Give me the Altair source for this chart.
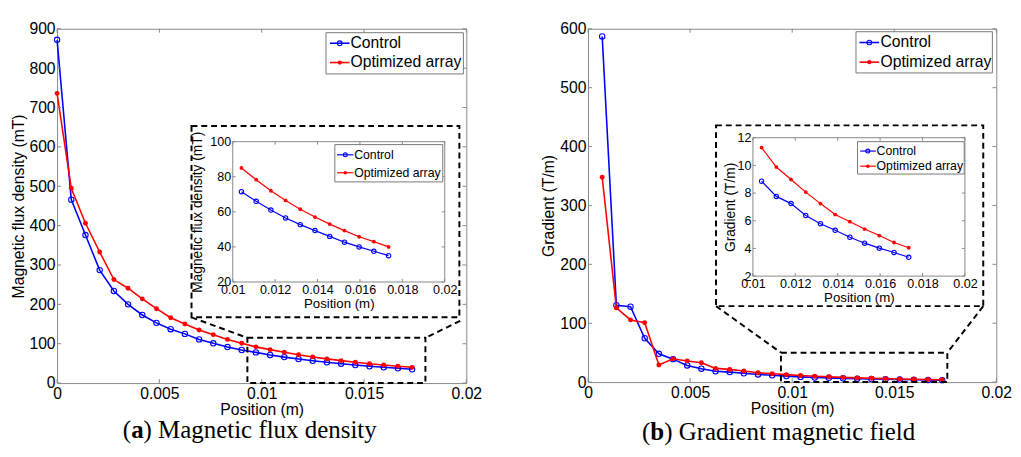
import altair as alt
import pandas as pd

# ---------------- data ----------------
position_a = [0.0, 0.000694, 0.001388, 0.002082, 0.002776, 0.00347, 0.004164, 0.004858,
              0.005552, 0.006246, 0.00694, 0.007634, 0.008328, 0.009022, 0.009716, 0.01041,
              0.011104, 0.011798, 0.012492, 0.013186, 0.01388, 0.014574, 0.015268, 0.015962,
              0.016656, 0.01735]
control_a = [872, 466, 376, 287, 234, 200, 173, 153, 137, 125, 111, 101, 91.5, 84, 78,
             71.5, 66, 61, 56.5, 52.7, 49.3, 46, 42.7, 40, 37.5, 35]
optimized_a = [736, 495, 406, 333, 263, 241, 214, 189, 166, 150, 135, 123, 111, 101, 92,
               85, 78.3, 72, 66.5, 61.5, 57, 53, 49.3, 45.8, 43, 40]

position_b = position_a[1:]
control_b = [587, 130.6, 128, 74.5, 48, 39, 28.3, 22.8, 18.3, 17, 15, 13, 11.5, 10.2,
             8.86, 7.76, 7.24, 6.38, 5.79, 5.31, 4.81, 4.38, 4.02, 3.71, 3.36]
optimized_b = [348, 126, 105.6, 101, 29, 39.5, 36, 33, 23.3, 21.6, 18.8, 16, 14.3, 12.7,
               11.29, 9.88, 8.98, 8.07, 7.24, 6.45, 5.93, 5.40, 4.93, 4.43, 4.05]

series_names = ["Control", "Optimized array"]

x_ticks_main = [0, 0.005, 0.01, 0.015, 0.02]
x_ticks_inset = [0.01, 0.012, 0.014, 0.016, 0.018, 0.02]
y_ticks_a = [0, 100, 200, 300, 400, 500, 600, 700, 800, 900]
y_ticks_a_inset = [20, 40, 60, 80, 100]
y_ticks_b = [0, 100, 200, 300, 400, 500, 600]
y_ticks_b_inset = [2, 4, 6, 8, 10, 12]

# zoom regions (data coordinates of the main axes)
zoom_a = {"x": [0.0093, 0.018], "y": [0, 115]}
zoom_b = {"x": [0.00945, 0.0176], "y": [0, 50]}
frame_a = {"x": [0.00657, 0.01966], "y": [167, 653]}
frame_b = {"x": [0.00627, 0.01936], "y": [129, 436]}

# ---------------- style ----------------
SANS = "Liberation Sans"
SERIF = "Liberation Serif"
BLUE = "#0000ff"
RED = "#ff0000"
GRAY = "#888888"
STYLES = [("Control", BLUE, False), ("Optimized array", RED, True)]


def long_df(pos, c, o):
    return pd.DataFrame({
        "x": list(pos) + list(pos),
        "v": list(c) + list(o),
        "s": [series_names[0]] * len(pos) + [series_names[1]] * len(pos),
    })


ONE = pd.DataFrame({"k": [0]})


def curves(df, xs, ys, xaxis, yaxis, lw, sizes):
    layers = []
    first = True
    for (name, col, filled), size in zip(STYLES, sizes):
        b = alt.Chart(df).transform_filter(alt.datum.s == name)
        plain = dict(x=alt.X("x:Q", scale=xs, axis=None), y=alt.Y("v:Q", scale=ys, axis=None))
        if first:
            enc = dict(x=alt.X("x:Q", scale=xs, axis=xaxis), y=alt.Y("v:Q", scale=ys, axis=yaxis))
            first = False
        else:
            enc = plain
        layers.append(b.mark_line(color=col, strokeWidth=lw).encode(**enc))
        layers.append(b.mark_point(shape="circle", filled=filled, color=col, size=size,
                                   strokeWidth=1.1, opacity=1).encode(**plain))
    return layers


def ticks(xvals, yvals, xdom, ydom, xs, ys, L):
    tx = alt.Chart(pd.DataFrame({"t": xvals}))
    ty = alt.Chart(pd.DataFrame({"t": yvals}))
    out = []
    for yv, off in [(ydom[1], L), (ydom[0], -L)]:
        out.append(tx.mark_rule(color=GRAY, strokeWidth=1, y2Offset=off).encode(
            x=alt.X("t:Q", scale=xs, axis=None),
            y=alt.YDatum(yv, scale=ys, axis=None), y2=alt.Y2Datum(yv)))
    for xv, off in [(xdom[0], L), (xdom[1], -L)]:
        out.append(ty.mark_rule(color=GRAY, strokeWidth=1, x2Offset=off).encode(
            y=alt.Y("t:Q", scale=ys, axis=None),
            x=alt.XDatum(xv, scale=xs, axis=None), x2=alt.X2Datum(xv)))
    return out


def legend(box, rows, line, mx, tx, fs, sizes, lw):
    one = alt.Chart(ONE)
    out = [one.mark_rect(fill="white", stroke="#777777", strokeWidth=1).encode(
        x=alt.value(box[0]), x2=alt.value(box[1]), y=alt.value(box[2]), y2=alt.value(box[3]))]
    for (name, col, filled), ry, size in zip(STYLES, rows, sizes):
        out.append(one.mark_rule(color=col, strokeWidth=lw).encode(
            x=alt.value(line[0]), x2=alt.value(line[1]), y=alt.value(ry)))
        out.append(one.mark_point(shape="circle", filled=filled, color=col, size=size,
                                  strokeWidth=1.1, opacity=1).encode(x=alt.value(mx), y=alt.value(ry)))
        out.append(one.mark_text(align="left", baseline="middle", font=SANS, fontSize=fs,
                                 color="black").encode(x=alt.value(tx), y=alt.value(ry), text=alt.value(name)))
    return out


def zoom_marks(zoom, frame, conn, xs, ys):
    one = alt.Chart(ONE)
    dash = dict(stroke="black", strokeWidth=2, strokeDash=[6, 4])
    out = []
    for r in (zoom, frame):
        out.append(one.mark_rect(fillOpacity=0, **dash).encode(
            x=alt.XDatum(r["x"][0], scale=xs, axis=None), x2=alt.X2Datum(r["x"][1]),
            y=alt.YDatum(r["y"][0], scale=ys, axis=None), y2=alt.Y2Datum(r["y"][1])))
    for (x1, y1, x2, y2) in conn:
        out.append(one.mark_rule(strokeDash=[6, 4], strokeWidth=2, color="black").encode(
            x=alt.XDatum(x1, scale=xs, axis=None), x2=alt.X2Datum(x2),
            y=alt.YDatum(y1, scale=ys, axis=None), y2=alt.Y2Datum(y2)))
    return out


def caption(letter, rest, x0, y, fs, bold_w):
    one = alt.Chart(ONE)
    parts = [("(", "normal", x0), (letter, "bold", x0 + 0.333 * fs),
             (rest, "normal", x0 + 0.333 * fs + bold_w * fs)]
    return [one.mark_text(align="left", baseline="alphabetic", font=SERIF, fontSize=fs,
                          fontWeight=w, color="black").encode(
        x=alt.value(px), y=alt.value(y), text=alt.value(t)) for t, w, px in parts]


def panel(df, W, H, ydom, yticks, ytitle, zoom, frame, conn,
          ins_xr, ins_yr, ins_ydom, ins_yticks, ins_ytitle_pad,
          leg_main, leg_inset, cap):
    xs = alt.Scale(domain=[0, 0.02], nice=False, zero=False)
    ys = alt.Scale(domain=ydom, nice=False, zero=False)
    xaxis = alt.Axis(orient="bottom", title="Position (m)", values=x_ticks_main, format="~g",
                     labelFontSize=16, titleFontSize=16, labelPadding=3, titlePadding=0)
    yaxis = alt.Axis(orient="left", title=ytitle, values=yticks, format="d",
                     labelFontSize=16, titleFontSize=16, labelPadding=2, titlePadding=3)

    xsi = alt.Scale(domain=[0.01, 0.02], range=ins_xr, nice=False, zero=False)
    ysi = alt.Scale(domain=ins_ydom, range=ins_yr, nice=False, zero=False)
    ixaxis = alt.Axis(orient="bottom", offset=-(H - ins_yr[0]), title="Position (m)",
                      values=x_ticks_inset, format="~g", labelFontSize=12.8, titleFontSize=13.5,
                      labelPadding=2, titlePadding=0)
    iyaxis = alt.Axis(orient="left", offset=-ins_xr[0], title=ytitle, values=ins_yticks,
                      format="d", labelFontSize=12.8, titleFontSize=14, labelPadding=2,
                      titlePadding=ins_ytitle_pad)
    dfi = df[df["x"] >= 0.01]
    bg = alt.Chart(ONE).mark_rect(fill="white", stroke=GRAY, strokeWidth=1).encode(
        x=alt.XDatum(0.01, scale=xsi, axis=None), x2=alt.X2Datum(0.02),
        y=alt.YDatum(ins_ydom[0], scale=ysi, axis=None), y2=alt.Y2Datum(ins_ydom[1]))

    layers = [
        *curves(df, xs, ys, xaxis, yaxis, 1.6, [30, 25]),
        *ticks(x_ticks_main, yticks, [0, 0.02], ydom, xs, ys, 4),
        *zoom_marks(zoom, frame, conn, xs, ys),
        *legend(**leg_main, fs=16, sizes=[22, 18], lw=1.6),
        *caption(**cap),
        bg,
        *curves(dfi, xsi, ysi, ixaxis, iyaxis, 1.2, [20, 15]),
        *ticks(x_ticks_inset, ins_yticks, [0.01, 0.02], ins_ydom, xsi, ysi, 3),
        *legend(**leg_inset, fs=12.5, sizes=[16, 13], lw=1.2),
    ]
    return alt.layer(*layers).resolve_scale(x="independent", y="independent").properties(
        width=W, height=H)


df_a = long_df(position_a, control_a, optimized_a)
df_b = long_df(position_b, control_b, optimized_b)

panel_a = panel(
    df_a, 417, 361, [0, 900], y_ticks_a, "Magnetic flux density (mT)",
    zoom_a, frame_a,
    [(frame_a["x"][0], frame_a["y"][0], zoom_a["x"][0], zoom_a["y"][1]),
     (0.0197, 158, zoom_a["x"][1], zoom_a["y"][1])],
    [179, 395], [258, 115], [20, 100], y_ticks_a_inset, 5,
    dict(box=[274, 414, 4, 46], rows=[14.7, 34.4], line=[278, 298], mx=288, tx=299),
    dict(box=[283, 393, 118, 156], rows=[128.4, 146.7], line=[285.3, 302], mx=293.7, tx=302.7),
    dict(letter="a", rest=") Magnetic flux density", x0=67, y=417, fs=25.4, bold_w=0.5),
)

panel_b = panel(
    df_b, 416, 360, [0, 600], y_ticks_b, "Gradient (T/m)",
    zoom_b, frame_b,
    [(frame_b["x"][0], frame_b["y"][0], zoom_b["x"][0], zoom_b["y"][1]),
     (frame_b["x"][1], frame_b["y"][0], zoom_b["x"][1], zoom_b["y"][1])],
    [168, 384], [252, 111], [2, 12], y_ticks_b_inset, 0,
    dict(box=[273, 412, 3, 45], rows=[14, 34], line=[276.6, 296.6], mx=286.6, tx=298),
    dict(box=[274.6, 383.3, 115, 148], rows=[124.6, 140], line=[277.3, 293.3], mx=285, tx=294),
    dict(letter="b", rest=") Gradient magnetic field", x0=55, y=418.5, fs=25.4, bold_w=0.556),
)

chart = alt.hconcat(panel_a, panel_b, spacing=58).configure(
    padding={"left": 1, "top": 8, "right": 0, "bottom": 0},
    background="white",
).configure_view(stroke=GRAY, strokeWidth=1).configure_axis(
    labelFont=SANS, titleFont=SANS, labelColor="black", titleColor="black",
    titleFontWeight="normal", ticks=False, domain=False, grid=False,
    labelFlush=False, labelOverlap=False,
)

chart.save("out.html", embed_options={"renderer": "svg", "actions": False})
